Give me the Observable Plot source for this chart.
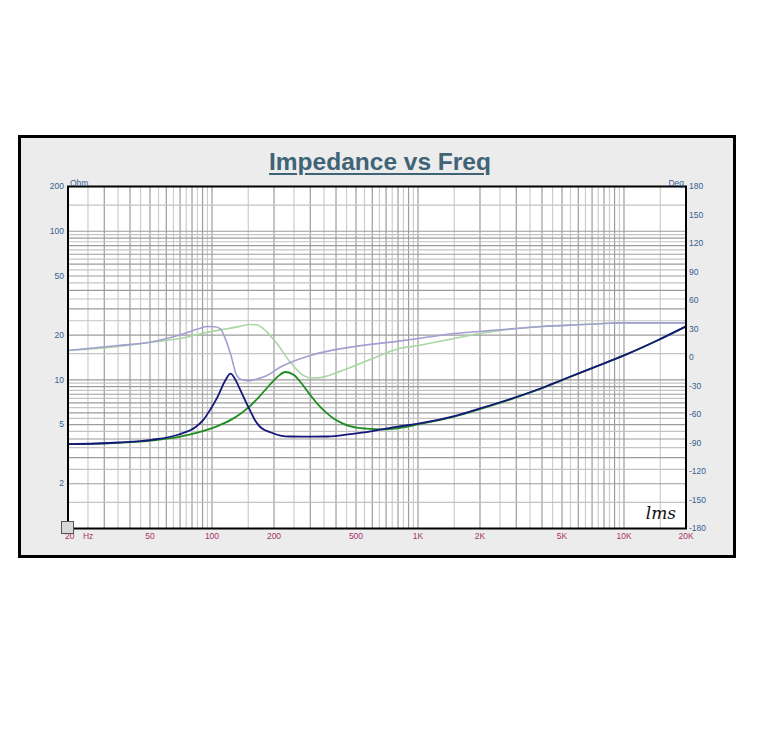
<!DOCTYPE html>
<html><head><meta charset="utf-8">
<script src="https://cdn.jsdelivr.net/npm/d3@7"></script>
<script src="https://cdn.jsdelivr.net/npm/@observablehq/plot@0.6"></script>
<style>
body{margin:0;background:#fff;width:763px;height:756px;position:relative;overflow:hidden;font-family:Arial,"Liberation Sans",sans-serif}
#frame{position:absolute;left:18px;top:135px;width:712px;height:417px;border:3px solid #000;background:#ececec}
#title{position:absolute;left:0;width:760px;top:150px;text-align:center;font-size:24.5px;line-height:24.5px;font-weight:bold;color:#3e6476;text-decoration:underline;text-decoration-thickness:2px;text-underline-offset:3px}
#chart{position:absolute;left:0;top:0}
#icon{position:absolute;left:61px;top:521px;width:11px;height:11px;border:1px solid #555;background:#d8d8d8}
</style></head>
<body>
<div id="frame"></div>
<div id="title">Impedance vs Freq</div>
<div id="chart"></div>
<div id="icon"></div>
<script>
// Impedance magnitude (Ohm) — dark navy trace
const freqNavy = [20,35,51,69,83,91,98,106,116,123,130,137,145,153,162,172,192,215,240,300,365,470,590,700,800,1000,1500,2000,3000,4000,5000,7000,10000,14500,20000];
const ohmNavy  = [3.69,3.79,3.95,4.29,4.8,5.4,6.3,7.6,9.9,11.0,10.0,8.6,7.26,6.23,5.33,4.8,4.44,4.22,4.16,4.15,4.16,4.32,4.51,4.7,4.85,5.07,5.71,6.42,7.67,8.82,9.98,12.0,14.6,18.4,22.9];
// Impedance magnitude (Ohm) — green trace
const freqGreen = [20,35,51,69,83,105,124,137,150,168,190,210,227,250,270,300,325,360,391,430,471,560,680,850,1000,1500,2000,3000,4000,5000,7000,10000,14500,20000];
const ohmGreen  = [3.69,3.77,3.9,4.13,4.38,4.85,5.4,5.9,6.5,7.6,9.2,10.6,11.3,10.8,9.6,7.9,6.9,6.0,5.47,5.1,4.86,4.7,4.65,4.8,5.02,5.66,6.36,7.62,8.8,9.96,12.0,14.6,18.4,22.9];
// Phase (deg) — light purple trace
const freqPhaseA = [20,35,50,55,73,86,95,103,110,115,123,132,140,150,160,185,215,300,470,806,1000,1500,2000,2500,3000,4000,6300,8000,10000,20000];
const degPhaseA  = [7.4,12.6,16.1,17.9,25,30.2,32.6,32.4,30.2,22,3.9,-19,-23.5,-24.6,-23.5,-19,-10,2.2,10.9,17.2,20,25.3,27.4,29.2,30.5,32.6,34.7,35.8,36.5,36.5];
// Phase (deg) — light green trace
const freqPhaseB = [20,35,50,74,88,118,135,153,165,178,207,240,278,300,325,410,570,805,1000,1500,2000,3000,4000,6300,8000,10000,20000];
const degPhaseB  = [7.4,11.6,16.1,21,25,30.2,32.5,34.7,34.5,30.2,14.4,-4.9,-19,-21.5,-21.4,-15.4,-3.2,9.2,12.6,20,25.3,30.5,32.6,34.7,35.8,36.5,36.5];

// Axis tick labels
const ohmTicks = [2,5,10,20,50,100,200];
const degTicks = [180,150,120,90,60,30,0,-30,-60,-90,-120,-150,-180];
const freqTicks = [50,100,200,500,1000,2000,5000,10000,20000];
const freqLabels = ["50","100","200","500","1K","2K","5K","10K","20K"];
const firstFreq = [{f: 20, label: "20\u2003Hz"}];

const phaseToOhm = d => Math.pow(200, (d + 180) / 360);

const toRows = (fs, vs) => fs.map((f, i) => ({f, v: vs[i]}));
const navy = toRows(freqNavy, ohmNavy);
const green = toRows(freqGreen, ohmGreen);
const phA = toRows(freqPhaseA, degPhaseA.map(phaseToOhm));
const phB = toRows(freqPhaseB, degPhaseB.map(phaseToOhm));
const xLab = freqTicks.map((f, i) => ({f, label: freqLabels[i]}));
const rLab = degTicks.map(d => ({v: phaseToOhm(d), label: String(d)}));

// grid: mantissa steps of 0.5 in each decade
const mant = d3.range(1, 10, 0.5);
const gx = [], gy = [];
for (const p of [10,100,1000,10000]) for (const m of mant) { const v = m*p; if (v >= 20 && v <= 20000) gx.push({v, major: Number.isInteger(m)}); }
for (const p of [1,10,100]) for (const m of mant) { const v = m*p; if (v >= 1 && v <= 200) gy.push({v, major: Number.isInteger(m)}); }

const blue = "#35618f", red = "#a8336a";
const chart = Plot.plot({
  width: 763, height: 756,
  marginLeft: 67.5, marginRight: 77.5, marginTop: 186, marginBottom: 228,
  style: {background: "transparent", fontFamily: "Arial, 'Liberation Sans', sans-serif"},
  x: {type: "log", domain: [20, 20000], axis: null},
  y: {type: "log", domain: [1, 200]},
  marks: [
    Plot.frame({fill: "white"}),
    Plot.ruleX(gx.filter(d => !d.major), {x: "v", stroke: "#cdcdcd", strokeWidth: 1.2}),
    Plot.ruleX(gx.filter(d => d.major), {x: "v", stroke: "#9c9c9c", strokeWidth: 1.2}),
    Plot.ruleY(gy.filter(d => !d.major), {y: "v", stroke: "#c4c4c4", strokeWidth: 1.2}),
    Plot.ruleY(gy.filter(d => d.major), {y: "v", stroke: "#9c9c9c", strokeWidth: 1.2}),
    Plot.line(phB, {x: "f", y: "v", stroke: "#a9d7a2", strokeWidth: 1.6, curve: "monotone-x"}),
    Plot.line(phA, {x: "f", y: "v", stroke: "#a39fd2", strokeWidth: 1.6, curve: "monotone-x"}),
    Plot.line(green, {x: "f", y: "v", stroke: "#1e8c22", strokeWidth: 1.8, curve: "monotone-x"}),
    Plot.line(navy, {x: "f", y: "v", stroke: "#15177a", strokeWidth: 1.8, curve: "monotone-x"}),
    Plot.frame({stroke: "#000", strokeWidth: 2}),
    Plot.axisY({anchor: "left", ticks: ohmTicks, tickFormat: d => String(d), tickSize: 0, tickPadding: 4, fontSize: 8.5, color: blue, label: null}),
    Plot.text(rLab, {y: "v", text: "label", frameAnchor: "right", textAnchor: "start", dx: 3, fontSize: 8.5, fill: blue}),
    Plot.text(xLab, {x: "f", text: "label", frameAnchor: "bottom", textAnchor: "middle", dy: 10, fontSize: 8.5, fill: red}),
    Plot.text(firstFreq, {x: "f", text: "label", frameAnchor: "bottom", textAnchor: "start", dx: -3, dy: 10, fontSize: 8.5, fill: red}),
    Plot.text(["Ohm"], {frameAnchor: "top-left", textAnchor: "start", dx: 2, dy: -7, fontSize: 8.5, fill: blue}),
    Plot.text(["Deg"], {frameAnchor: "top-right", textAnchor: "end", dx: -2, dy: -7, fontSize: 8.5, fill: blue}),
    Plot.text(["lms"], {frameAnchor: "bottom-right", textAnchor: "end", dx: -10, dy: -10, fontSize: 17, fontStyle: "italic", fontFamily: "'DejaVu Serif', serif", fill: "#111"})
  ]
});
document.getElementById("chart").appendChild(chart);
</script>
</body></html>
